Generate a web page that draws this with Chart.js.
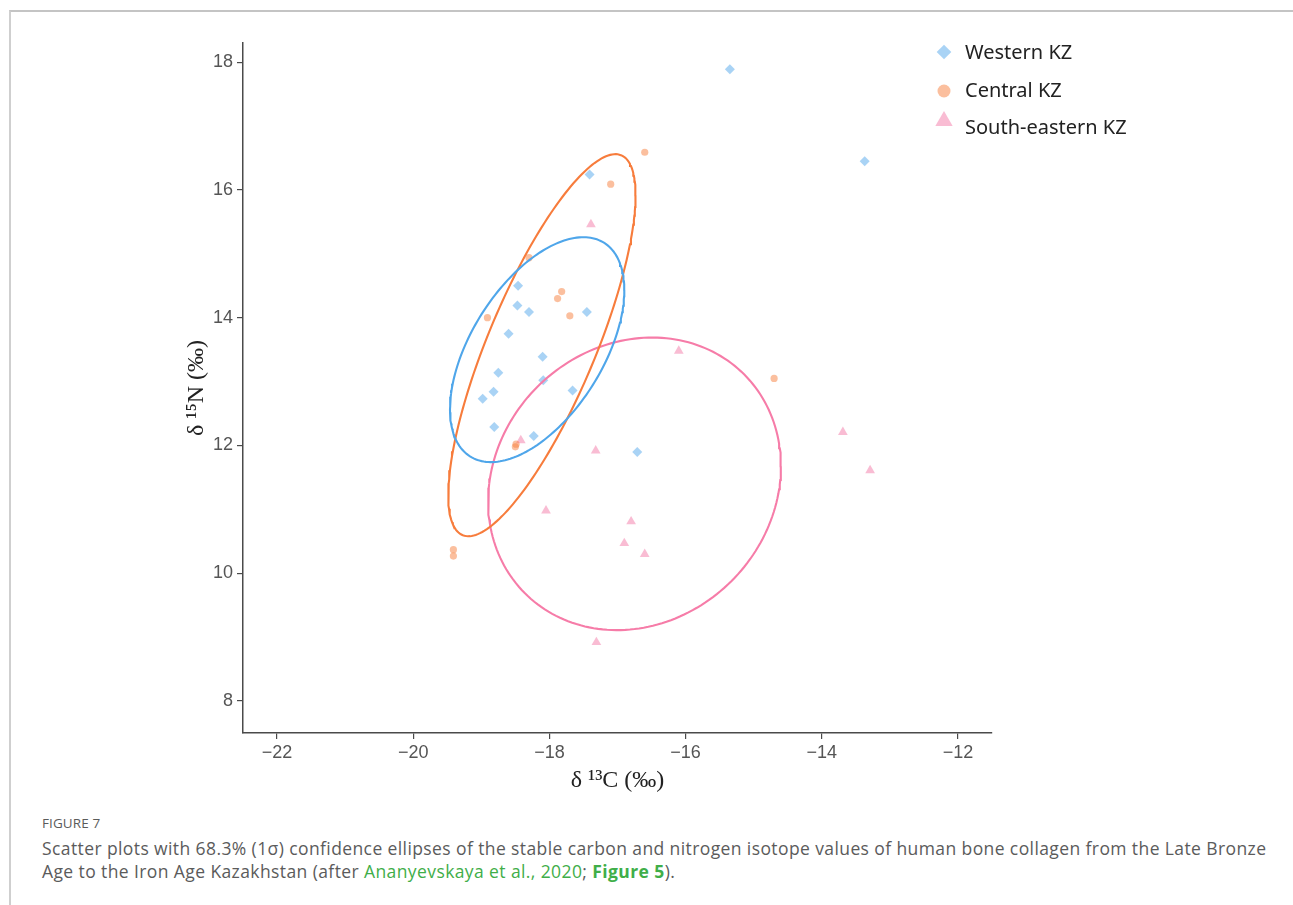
<!DOCTYPE html>
<html>
<head>
<meta charset="utf-8">
<script src="https://cdn.jsdelivr.net/npm/chart.js@4/dist/chart.umd.min.js"></script>
<style>
  body { margin: 0; background: #fff; }
  .frame { position: absolute; left: 9px; top: 10px; width: 1300px; height: 900px;
    border-left: 2px solid #cfcfcf; border-top: 2px solid #c4c4c4; }
  .chart-box { position: absolute; left: 0; top: 0; width: 1293px; height: 800px; }
  .caption { position: absolute; left: 42px; top: 814px; width: 1248px;
    font-family: "Open Sans", Lato, sans-serif; color: #5b5b5b; }
  .caption .fig { font-size: 13.5px; letter-spacing: 0.1px; margin-bottom: 5px; }
  .caption .txt { font-size: 17.5px; line-height: 23px; letter-spacing: 0.4px; }
  .caption .link { color: #3fae49; }
  .caption b { color: #3fae49; }
</style>
</head>
<body>
<div class="frame"></div>
<div class="chart-box"><canvas id="isoChart"></canvas></div>
<div class="caption">
  <div class="fig">FIGURE 7</div>
  <div class="txt">Scatter plots with 68.3% (1σ) confidence ellipses of the stable carbon and nitrogen isotope values of human bone collagen from the Late Bronze<br>Age to the Iron Age Kazakhstan (after <span class="link">Ananyevskaya et al., 2020</span>; <b>Figure 5</b>).</div>
</div>
<script>
  // Series labels
  const groupLabels = ['Western KZ', 'Central KZ', 'South-eastern KZ'];

  // Western KZ: d13C / d15N
  const westernC = [-15.35, -13.37, -17.41, -18.46, -18.47, -18.30, -17.45, -18.60, -18.10, -18.75, -18.09, -17.66, -18.82, -18.98, -18.81, -18.23, -16.71];
  const westernN = [17.89, 16.45, 16.24, 14.50, 14.19, 14.09, 14.09, 13.75, 13.39, 13.14, 13.02, 12.86, 12.84, 12.73, 12.29, 12.15, 11.90];

  // Central KZ
  const centralC = [-16.60, -17.10, -18.30, -17.82, -17.88, -17.70, -18.91, -18.50, -18.49, -19.41, -19.41, -14.70];
  const centralN = [16.59, 16.09, 14.94, 14.41, 14.30, 14.03, 14.00, 11.98, 12.02, 10.37, 10.27, 13.05];

  // South-eastern KZ
  const southC = [-17.39, -16.10, -18.42, -17.32, -13.69, -13.29, -18.05, -16.80, -16.90, -16.60, -17.31];
  const southN = [15.46, 13.48, 12.08, 11.92, 12.21, 11.61, 10.98, 10.81, 10.47, 10.30, 8.92];

  // 1 sigma ellipses (centre, half extent in C and N, correlation)
  const ellipseCx = [-18.18, -18.11, -16.75];
  const ellipseCy = [13.50, 13.57, 11.40];
  const ellipseAx = [1.28, 1.375, 2.15];
  const ellipseAy = [1.76, 2.99, 2.29];
  const ellipseRho = [0.53, 0.785, 0.12];

  // Axis ticks
  const xTicks = [-22, -20, -18, -16, -14, -12];
  const yTicks = [8, 10, 12, 14, 16, 18];

  const pointColors = ['rgba(83,167,235,0.5)', 'rgba(247,127,61,0.5)', 'rgba(243,121,167,0.5)'];
  const lineColors = ['#4fa6ea', '#f77c3c', '#f67ca8'];
  const pointStyles = ['rectRot', 'circle', 'triangle'];
  const pointSizes = [5, 3.6, 5.6];

  function zipPoints(cs, ns) {
    return cs.map((c, i) => ({ x: c, y: ns[i] }));
  }

  // outline of an ellipse given by centre, half extents and correlation
  function ellipseOutline(i) {
    const phi = Math.acos(ellipseRho[i]);
    const pts = [];
    for (let k = 0; k <= 200; k++) {
      const t = (k / 200) * 2 * Math.PI;
      pts.push({
        x: ellipseCx[i] + ellipseAx[i] * Math.cos(t),
        y: ellipseCy[i] + ellipseAy[i] * Math.cos(t - phi)
      });
    }
    return pts;
  }

  const groups = [zipPoints(westernC, westernN), zipPoints(centralC, centralN), zipPoints(southC, southN)];

  const datasets = [];
  groups.forEach((pts, i) => {
    datasets.push({
      label: groupLabels[i],
      data: pts,
      pointStyle: pointStyles[i],
      pointRadius: pointSizes[i],
      pointBackgroundColor: pointColors[i],
      pointBorderWidth: 0,
      order: 2
    });
  });
  groups.forEach((pts, i) => {
    datasets.push({
      label: groupLabels[i] + ' ellipse',
      data: ellipseOutline(i),
      showLine: true,
      fill: false,
      borderColor: lineColors[i],
      borderWidth: 2.1,
      pointRadius: 0,
      tension: 0,
      order: 1
    });
  });

  // legend in the upper right corner
  const legendPos = [{ y: 52, r: 7.3 }, { y: 91, r: 6.5 }, { y: 121, r: 10 }];
  const legendTextY = [53, 91, 128];
  const cornerLegend = {
    id: 'cornerLegend',
    afterDraw(chart) {
      const ctx = chart.ctx;
      ctx.save();
      groupLabels.forEach((label, i) => {
        ctx.fillStyle = pointColors[i];
        Chart.helpers.drawPoint(ctx, {
          pointStyle: pointStyles[i],
          radius: legendPos[i].r,
          rotation: 0,
          borderWidth: 0
        }, 944, legendPos[i].y);
        ctx.fillStyle = '#222';
        ctx.font = '20px "Noto Sans"';
        ctx.textBaseline = 'middle';
        ctx.textAlign = 'left';
        ctx.fillText(label, 965, legendTextY[i]);
      });
      ctx.restore();
    }
  };

  const minus = v => (v < 0 ? '\u2212' + Math.abs(v) : String(v));
  const axisColor = '#4a4a4a';

  // eslint-disable-next-line no-unused-vars
  const isoChart = new Chart(document.getElementById('isoChart'), {
    type: 'scatter',
    data: { datasets: datasets },
    plugins: [cornerLegend],
    options: {
      responsive: true,
      maintainAspectRatio: false,
      animation: false,
      layout: { padding: { left: 0, top: 43, right: 301, bottom: 0 } },
      plugins: {
        legend: { display: false },
        tooltip: { enabled: false }
      },
      scales: {
        x: {
          type: 'linear',
          min: -22.5,
          max: -11.5,
          afterBuildTicks: s => { s.ticks = xTicks.map(v => ({ value: v })); },
          afterFit: s => { s.height = 67; },
          grid: { drawOnChartArea: false, drawTicks: true, tickLength: 6, color: axisColor, lineWidth: 1.2 },
          border: { display: true, color: axisColor, width: 1.5 },
          ticks: {
            color: '#555',
            padding: 3,
            font: { family: '"Liberation Sans", Arial, sans-serif', size: 18 },
            callback: v => minus(v)
          },
          title: {
            display: true,
            text: 'δ ¹³C (‰)',
            color: '#222',
            padding: { top: 0, bottom: 5 },
            font: { family: '"Liberation Serif", "DejaVu Serif", serif', size: 24 }
          }
        },
        y: {
          type: 'linear',
          min: 7.5,
          max: 18.3,
          afterBuildTicks: s => { s.ticks = yTicks.map(v => ({ value: v })); },
          afterFit: s => { s.width = 243; },
          grid: { drawOnChartArea: false, drawTicks: true, tickLength: 6, color: axisColor, lineWidth: 1.2 },
          border: { display: true, color: axisColor, width: 1.5 },
          ticks: {
            color: '#555',
            padding: 4,
            font: { family: '"Liberation Sans", Arial, sans-serif', size: 18 },
            callback: v => minus(v)
          },
          title: {
            display: true,
            text: 'δ ¹⁵N (‰)',
            color: '#222',
            padding: { top: 182, bottom: 0 },
            font: { family: '"Liberation Serif", "DejaVu Serif", serif', size: 24 }
          }
        }
      }
    }
  });
</script>
</body>
</html>
